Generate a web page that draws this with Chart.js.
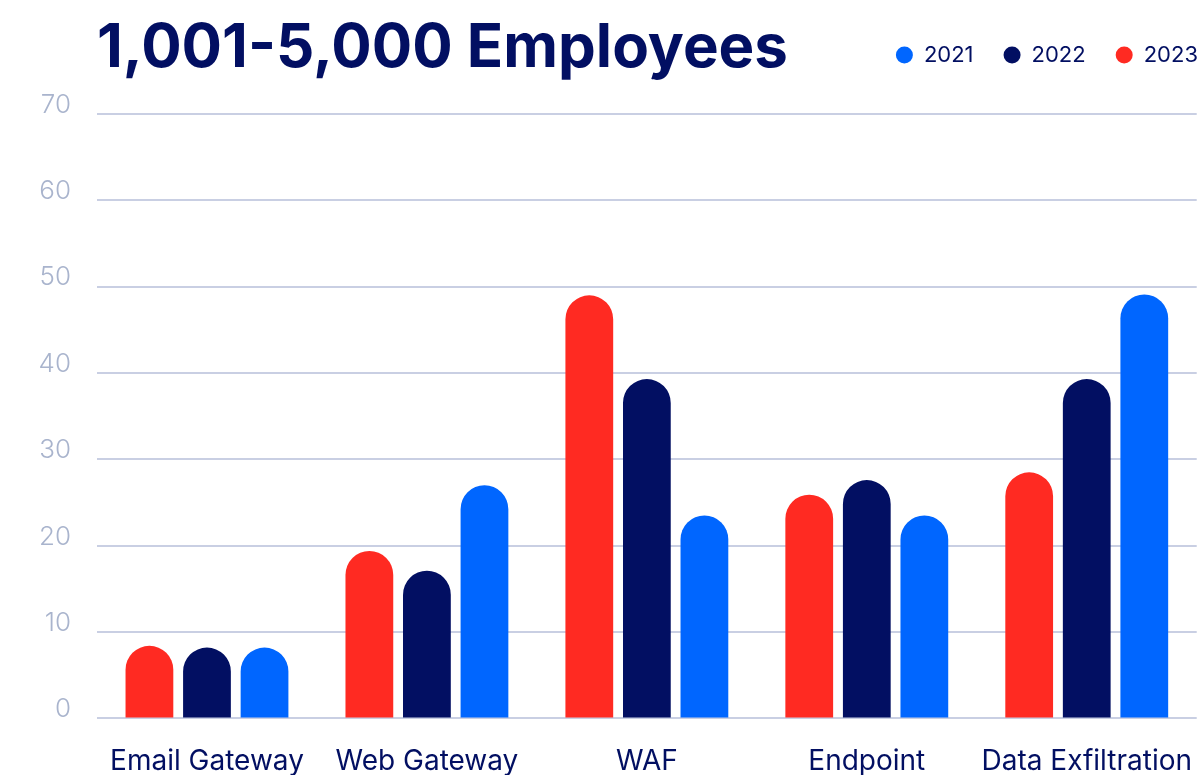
<!DOCTYPE html>
<html>
<head>
<meta charset="utf-8">
<script src="https://cdn.jsdelivr.net/npm/chart.js@4.4.1/dist/chart.umd.min.js"></script>
<style>
  html, body { margin: 0; padding: 0; background: #fff; overflow: hidden; }
  #wrap { position: absolute; left: 0; top: 0; width: 1210px; height: 775px; }
  h1 {
    position: absolute; left: 97px; top: 9px; margin: 0;
    font-family: Inter, sans-serif; font-weight: 700; font-size: 60px;
    color: #020f62; z-index: 2;
  }
</style>
</head>
<body>
<div id="wrap">
  <h1>1,001-5,000 Employees</h1>
  <canvas id="chart"></canvas>
</div>
<script>
// categories and yearly values (percent of respondents)
const categories = ['Email Gateway', 'Web Gateway', 'WAF', 'Endpoint', 'Data Exfiltration'];
const values2023 = [8.4, 19.4, 49.0, 25.9, 28.5];
const values2022 = [8.2, 17.1, 39.3, 27.6, 39.3];
const values2021 = [8.2, 27.0, 23.5, 23.5, 49.1];
const yTicks = [0, 10, 20, 30, 40, 50, 60, 70];

const NAVY = '#020f62';
const colors = { 2021: '#0066ff', 2022: '#020f62', 2023: '#ff2a22' };

function barSet(label, data) {
    return {
        label: label,
        data: data,
        backgroundColor: colors[label],
        borderRadius: { topLeft: 24, topRight: 24, bottomLeft: 0, bottomRight: 0 },
        borderSkipped: 'bottom',
        categoryPercentage: 0.785,
        barPercentage: 0.83
    };
}

// lift the legend up onto the title row and push it to the right edge
const legendShift = {
    id: 'legendShift',
    afterLayout(chart) {
        const lg = chart.legend;
        lg.top -= 38; lg.bottom -= 38;
        lg.left += 18; lg.right += 18;
    }
};

const ctx = document.getElementById('chart').getContext('2d');
new Chart(ctx, {
    type: 'bar',
    data: {
        labels: categories,
        datasets: [
            barSet('2023', values2023),
            barSet('2022', values2022),
            barSet('2021', values2021)
        ]
    },
    plugins: [legendShift],
    options: {
        responsive: true,
        maintainAspectRatio: false,
        animation: false,
        layout: { padding: { top: 52, left: 0, right: 0, bottom: -21 } },
        scales: {
            x: {
                grid: { display: false },
                border: { display: false },
                ticks: {
                    color: NAVY,
                    font: { family: 'Inter', size: 28 },
                    padding: 18,
                    maxRotation: 0,
                    autoSkip: false
                }
            },
            y: {
                min: 0,
                max: 70,
                afterBuildTicks: (scale) => { scale.ticks = yTicks.map(v => ({ value: v })); },
                afterFit: (scale) => { scale.width = 97; },
                grid: { color: '#c9cfe3', lineWidth: 2, drawTicks: false },
                border: { display: false },
                ticks: {
                    color: '#a9b4cd',
                    font: { family: 'Inter', size: 26, weight: 300 },
                    padding: 26,
                    labelOffset: -9
                }
            }
        },
        plugins: {
            legend: {
                position: 'top',
                align: 'end',
                reverse: true,
                labels: {
                    color: NAVY,
                    font: { family: 'Inter', size: 22 },
                    usePointStyle: true,
                    pointStyle: 'circle',
                    boxWidth: 17,
                    boxHeight: 12,
                    pointStyleWidth: 17,
                    padding: 30
                }
            },
            tooltip: { enabled: false }
        }
    }
});
</script>
</body>
</html>
